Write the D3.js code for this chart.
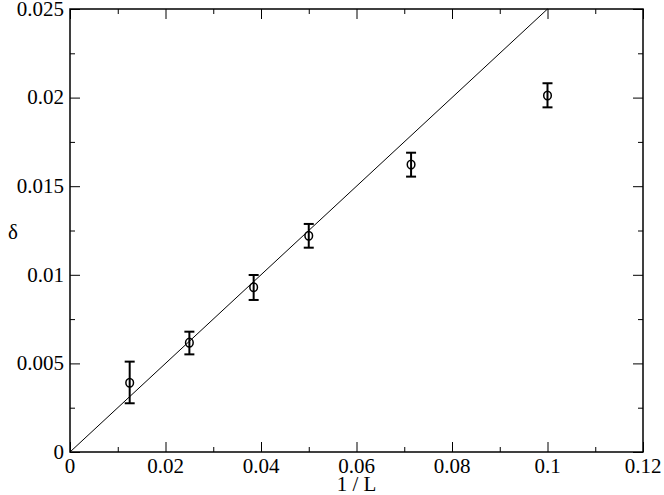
<!DOCTYPE html>
<html>
<head>
<meta charset="utf-8">
<script src="https://cdn.jsdelivr.net/npm/d3@7"></script>
<style>
  body { margin: 0; background: #fff; }
</style>
</head>
<body>
<div class="chart"></div>
<script>
// data
const invL = [1 / 80, 1 / 40, 1 / 26, 1 / 20, 1 / 14, 1 / 10]
const delta = [0.00391, 0.00617, 0.00930, 0.01220, 0.01622, 0.02012]
const errLo = [0.00275, 0.00551, 0.00858, 0.01153, 0.01554, 0.01945]
const errHi = [0.00510, 0.00679, 0.00999, 0.01287, 0.01689, 0.02081]
const fitX = [0, 0.1]
const fitY = [0, 0.025]
const xTicks = [0, 0.02, 0.04, 0.06, 0.08, 0.1, 0.12]
const yTicks = [0, 0.005, 0.01, 0.015, 0.02, 0.025]
const xMinor = [0.01, 0.03, 0.05, 0.07, 0.09, 0.11]
const yMinor = [0.0025, 0.0075, 0.0125, 0.0175, 0.0225]

const width = 664, height = 495
const margin = {left: 70, right: 21, top: 9, bottom: 43}

const svg = d3.select('.chart').append('svg')
    .attr('width', width)
    .attr('height', height)

const x = d3.scaleLinear().domain([0, 0.12]).range([margin.left, width - margin.right])
const y = d3.scaleLinear().domain([0, 0.025]).range([height - margin.bottom, margin.top])

const fmt = d => d === 0 ? '0' : String(+d.toFixed(4))
const font = 'Liberation Serif'
const fs = '21px'

// ticks on all four sides, pointing inward
function addAxis(axis, tx, ty) {
    const g = svg.append('g').attr('transform', `translate(${tx},${ty})`).call(axis)
    g.select('.domain').remove()
    g.selectAll('line').attr('stroke', '#000').attr('stroke-width', 1)
    return g
}

addAxis(d3.axisBottom(x).tickValues(xTicks).tickSize(-10).tickFormat(''), 0, y(0))
addAxis(d3.axisBottom(x).tickValues(xMinor).tickSize(-5).tickFormat(''), 0, y(0))
addAxis(d3.axisTop(x).tickValues(xTicks).tickSize(-10).tickFormat(''), 0, y(0.025))
addAxis(d3.axisTop(x).tickValues(xMinor).tickSize(-5).tickFormat(''), 0, y(0.025))
addAxis(d3.axisLeft(y).tickValues(yTicks).tickSize(-10).tickFormat(''), x(0), 0)
addAxis(d3.axisLeft(y).tickValues(yMinor).tickSize(-5).tickFormat(''), x(0), 0)
addAxis(d3.axisRight(y).tickValues(yTicks).tickSize(-10).tickFormat(''), x(0.12), 0)
addAxis(d3.axisRight(y).tickValues(yMinor).tickSize(-5).tickFormat(''), x(0.12), 0)

// tick labels
svg.selectAll('.xlab')
    .data(xTicks).enter()
    .append('text')
    .attr('x', d => x(d))
    .attr('y', y(0) + 21)
    .attr('text-anchor', 'middle')
    .attr('font-family', font)
    .attr('font-size', fs)
    .text(fmt)

svg.selectAll('.ylab')
    .data(yTicks).enter()
    .append('text')
    .attr('x', x(0) - 6)
    .attr('y', d => y(d))
    .attr('dy', '0.32em')
    .attr('text-anchor', 'end')
    .attr('font-family', font)
    .attr('font-size', fs)
    .text(fmt)

// frame
svg.append('rect')
    .attr('x', x(0))
    .attr('y', y(0.025))
    .attr('width', x(0.12) - x(0))
    .attr('height', y(0) - y(0.025))
    .attr('fill', 'none')
    .attr('stroke', '#000')
    .attr('stroke-width', 1.5)

// axis titles
svg.append('text')
    .attr('x', x(0.06))
    .attr('y', 491)
    .attr('text-anchor', 'middle')
    .attr('font-family', font)
    .attr('font-size', fs)
    .text('1 / L')

svg.append('text')
    .attr('x', 8)
    .attr('y', 239)
    .attr('font-family', font)
    .attr('font-size', fs)
    .text('δ')

// fit line
svg.append('path')
    .datum(fitX.map((d, i) => [d, fitY[i]]))
    .attr('d', d3.line().x(d => x(d[0])).y(d => y(d[1])))
    .attr('fill', 'none')
    .attr('stroke', '#000')
    .attr('stroke-width', 1)

// points with error bars
const pts = svg.selectAll('.pt')
    .data(invL.map((d, i) => ({x: d, y: delta[i], lo: errLo[i], hi: errHi[i]})))
    .enter()
    .append('g')
    .attr('class', 'pt')

pts.append('line')
    .attr('x1', d => x(d.x)).attr('x2', d => x(d.x))
    .attr('y1', d => y(d.lo)).attr('y2', d => y(d.hi))
    .attr('stroke', '#000').attr('stroke-width', 2)

pts.append('line')
    .attr('x1', d => x(d.x) - 5).attr('x2', d => x(d.x) + 5)
    .attr('y1', d => y(d.lo)).attr('y2', d => y(d.lo))
    .attr('stroke', '#000').attr('stroke-width', 2)

pts.append('line')
    .attr('x1', d => x(d.x) - 5).attr('x2', d => x(d.x) + 5)
    .attr('y1', d => y(d.hi)).attr('y2', d => y(d.hi))
    .attr('stroke', '#000').attr('stroke-width', 2)

pts.append('ellipse')
    .attr('cx', d => x(d.x))
    .attr('cy', d => y(d.y))
    .attr('rx', 3.8)
    .attr('ry', 4.3)
    .attr('fill', 'none')
    .attr('stroke', '#000')
    .attr('stroke-width', 1.5)
</script>
</body>
</html>
